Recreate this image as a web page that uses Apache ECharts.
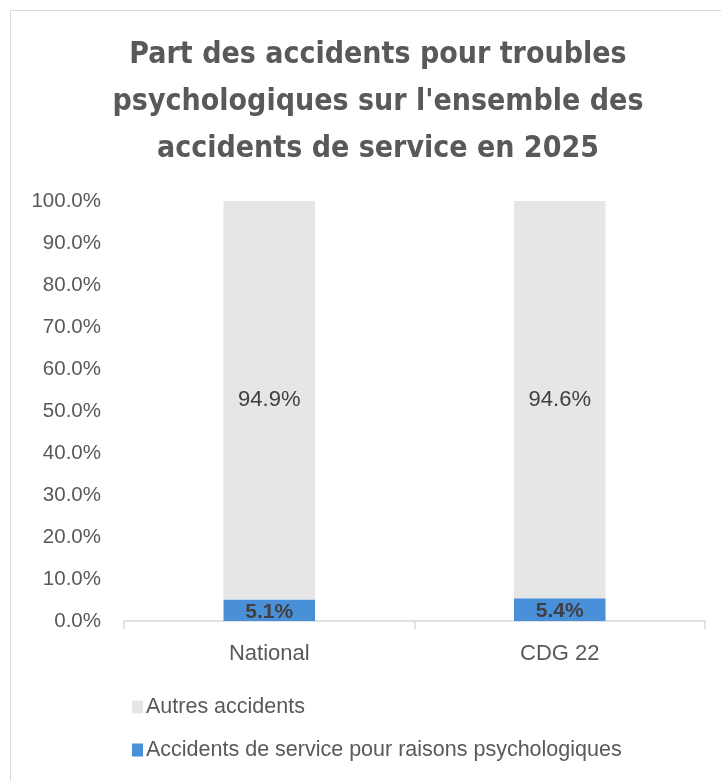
<!DOCTYPE html>
<html>
<head>
<meta charset="utf-8">
<script src="https://cdn.jsdelivr.net/npm/echarts@6/dist/echarts.min.js"></script>
<style>
  html, body { margin: 0; padding: 0; background: #fff; }
  #frame { position: absolute; left: 10px; top: 10px; width: 730px; height: 800px; border: 1px solid #d9d9d9; }
  #chart { position: absolute; left: 0; top: 0; width: 721px; height: 781px; }
</style>
</head>
<body>
<div id="frame"></div>
<div id="chart"></div>
<script>
const titleText = "Part des accidents pour troubles\npsychologiques sur l'ensemble des\naccidents de service en 2025"
const categories = ['National', 'CDG 22']
const psychoName = 'Accidents de service pour raisons psychologiques'
const autresName = 'Autres accidents'
const psychoValues = [5.1, 5.4]
const autresValues = [94.9, 94.6]

const textColor = '#595959'
const bodyFont = '"Liberation Sans", Arial, sans-serif'
const chart = echarts.init(document.getElementById('chart'), null, { renderer: 'canvas' })

const option = {
  backgroundColor: 'transparent',
  animation: false,
  title: {
    text: titleText,
    left: 373,
    textAlign: 'center',
    top: 27,
    textStyle: {
      fontFamily: '"DejaVu Sans Condensed", "Liberation Sans Narrow", sans-serif',
      fontSize: 30,
      fontWeight: 'bold',
      color: textColor,
      lineHeight: 47
    }
  },
  grid: {
    left: 124,
    right: 16,
    top: 201,
    bottom: 160,
    outerBoundsMode: 'none'
  },
  legend: {
    orient: 'vertical',
    left: 127,
    top: 691,
    icon: 'rect',
    itemWidth: 11,
    itemHeight: 13,
    itemGap: 21,
    data: [autresName, psychoName],
    textStyle: { color: textColor, fontSize: 21.5, fontFamily: bodyFont, padding: [0, 0, 0, -2] }
  },
  xAxis: {
    type: 'category',
    data: categories,
    axisLine: { lineStyle: { color: '#d9d9d9', width: 1.5 } },
    axisTick: { show: true, length: 8, lineStyle: { color: '#d9d9d9', width: 1.5 } },
    axisLabel: { color: textColor, fontSize: 22, margin: 22, fontFamily: bodyFont }
  },
  yAxis: {
    type: 'value',
    min: 0,
    max: 100,
    interval: 10,
    axisLine: { show: false },
    axisTick: { show: false },
    splitLine: { show: false },
    axisLabel: {
      color: textColor,
      fontSize: 20.5,
      margin: 23,
      fontFamily: bodyFont,
      formatter: v => v.toFixed(1) + '%'
    }
  },
  series: [
    {
      name: psychoName,
      type: 'bar',
      stack: 'total',
      barWidth: '31.5%',
      data: psychoValues,
      itemStyle: { color: '#4a90d9' },
      label: {
        show: true,
        position: 'inside',
        offset: [0, 2],
        color: '#404040',
        fontSize: 21,
        fontWeight: 'bold',
        fontFamily: bodyFont,
        formatter: p => p.value.toFixed(1) + '%'
      }
    },
    {
      name: autresName,
      type: 'bar',
      stack: 'total',
      data: autresValues,
      itemStyle: { color: '#e7e6e6' },
      label: {
        show: true,
        position: 'inside',
        color: '#404040',
        fontSize: 22,
        fontFamily: bodyFont,
        formatter: p => p.value.toFixed(1) + '%'
      }
    }
  ]
}

chart.setOption(option)
window.addEventListener('resize', () => chart.resize())
</script>
</body>
</html>
